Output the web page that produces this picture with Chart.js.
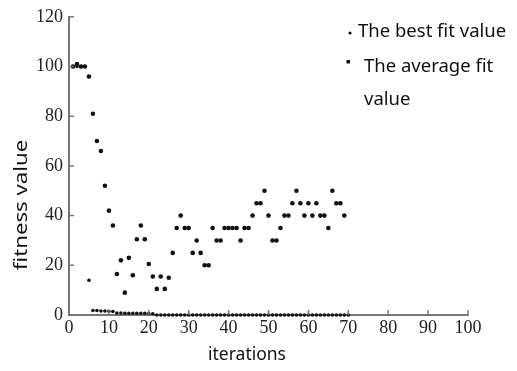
<!DOCTYPE html>
<html><head><meta charset="utf-8">
<script src="https://cdn.jsdelivr.net/npm/chart.js@4/dist/chart.umd.min.js"></script>
<style>html,body{margin:0;padding:0;background:#fff}#wrap{width:517px;height:371px}</style>
</head><body><div id="wrap"><canvas id="c" width="517" height="371"></canvas></div>
<script>
const bestIter = [1,2,3,4,5,6,7,8,9,10,11,12,13,14,15,16,17,18,19,20,21,22,23,24,25,26,27,28,29,30,31,32,33,34,35,36,37,38,39,40,41,42,43,44,45,46,47,48,49,50,51,52,53,54,55,56,57,58,59,60,61,62,63,64,65,66,67,68,69,70];
const bestVal  = [100,100,100,100,14,1.8,1.8,1.6,1.6,1.5,1.4,0.8,0.8,0.7,0.7,0.7,0.7,0.7,0.7,0.6,0.5,0,0,0,0,0,0,0,0,0,0,0,0,0,0,0,0,0,0,0,0,0,0,0,0,0,0,0,0,0,0,0,0,0,0,0,0,0,0,0,0,0,0,0,0,0,0,0,0,0];
const avgIter  = [1,2,3,4,5,6,7,8,9,10,11,12,13,14,15,16,17,18,19,20,21,22,23,24,25,26,27,28,29,30,31,32,33,34,35,36,37,38,39,40,41,42,43,44,45,46,47,48,49,50,51,52,53,54,55,56,57,58,59,60,61,62,63,64,65,66,67,68,69];
const avgVal   = [100,101,100,100,96,81,70,66,52,42,36,16.5,22,9,23,16,30.5,36,30.5,20.5,15.5,10.5,15.5,10.5,15,25,35,40,35,35,25,30,25,20,20,35,30,30,35,35,35,35,30,35,35,40,45,45,50,40,30,30,35,40,40,45,50,45,40,45,40,45,40,40,35,50,45,45,40];
const xTicks = [0,10,20,30,40,50,60,70,80,90,100];
const yTicks = [0,20,40,60,80,100,120];
const seriesNames = ["The best fit value", ["The average fit", "value"]];
const xTitle = "iterations";
const yTitle = "fitness value";

const pts = (xs, ys) => xs.map((x, i) => ({x, y: ys[i]}));

const axisColor = '#777';
const decor = {
  id: 'decor',
  afterDraw(chart) {
    const {ctx, chartArea: a, scales: {x, y}} = chart;
    ctx.save();
    ctx.strokeStyle = axisColor;
    ctx.lineWidth = 1.5;
    // inward ticks
    ctx.beginPath();
    xTicks.forEach(v => { const px = x.getPixelForValue(v); ctx.moveTo(px, a.bottom); ctx.lineTo(px, a.bottom - 5); });
    yTicks.forEach(v => { const py = y.getPixelForValue(v); ctx.moveTo(a.left, py); ctx.lineTo(a.left + 5, py); });
    ctx.stroke();
    // axis titles
    ctx.fillStyle = '#111';
    ctx.font = '17.5px "Noto Sans", sans-serif';
    ctx.textAlign = 'center';
    ctx.textBaseline = 'middle';
    ctx.fillText(xTitle, 247, 355);
    ctx.save();
    ctx.translate(22, 205);
    ctx.rotate(-Math.PI / 2);
    ctx.scale(1.27, 1);
    ctx.fillText(yTitle, 0, 0);
    ctx.restore();
    // legend
    ctx.textAlign = 'left';
    ctx.font = '18.5px "Noto Sans", sans-serif';
    ctx.fillStyle = '#111';
    ctx.beginPath(); ctx.arc(350, 33, 1.6, 0, Math.PI * 2); ctx.fill();
    ctx.fillText(seriesNames[0], 358, 32);
    ctx.fillRect(346.5, 60, 3.5, 3.5);
    seriesNames[1].forEach((t, i) => ctx.fillText(t, 364, 67 + i * 33));
    ctx.restore();
  }
};

new Chart(document.getElementById('c'), {
  type: 'scatter',
  data: {
    datasets: [
      { label: seriesNames[0], data: pts(bestIter, bestVal), backgroundColor: '#111', borderColor: '#111', pointRadius: 1.8, pointBorderWidth: 0, clip: false },
      { label: seriesNames[1].join(' '), data: pts(avgIter, avgVal), backgroundColor: '#111', borderColor: '#111', pointRadius: 2.3, pointBorderWidth: 0, clip: false }
    ]
  },
  options: {
    responsive: false,
    animation: false,
    layout: { padding: { left: 0, top: 8, right: 49, bottom: 0 } },
    plugins: { legend: { display: false }, tooltip: { enabled: false } },
    scales: {
      x: {
        type: 'linear', min: 0, max: 100,
        afterFit: s => { s.height = 56; },
        afterBuildTicks: s => { s.ticks = xTicks.map(v => ({value: v})); },
        grid: { display: false, drawTicks: false },
        border: { display: true, color: axisColor, width: 2 },
        ticks: { color: '#222', padding: 2, font: { family: 'Liberation Serif', size: 18 }, maxRotation: 0 }
      },
      y: {
        type: 'linear', min: 0, max: 120,
        afterFit: s => { s.width = 69; },
        afterBuildTicks: s => { s.ticks = yTicks.map(v => ({value: v})); },
        grid: { display: false, drawTicks: false },
        border: { display: true, color: axisColor, width: 2 },
        ticks: { color: '#222', padding: 6, font: { family: 'Liberation Serif', size: 18 } }
      }
    }
  },
  plugins: [decor]
});
</script></body></html>
